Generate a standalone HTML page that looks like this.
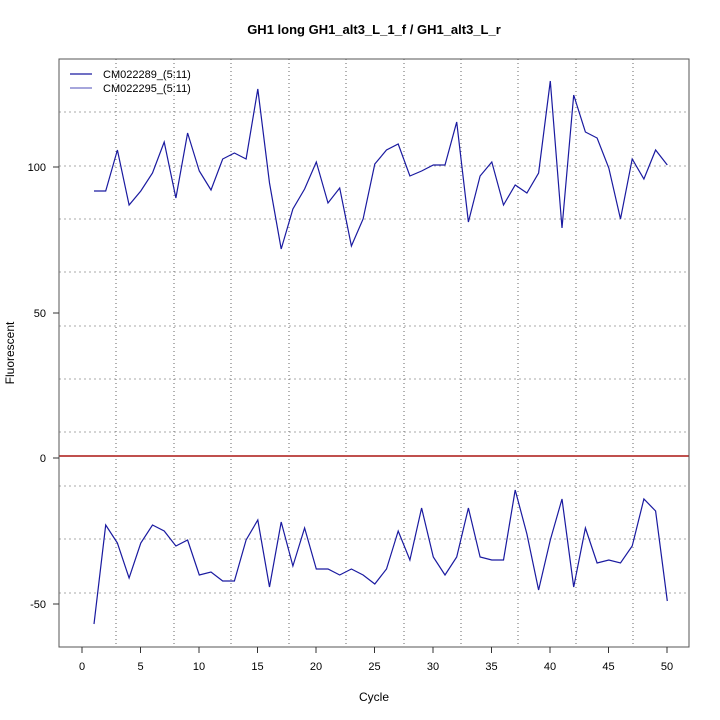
<!DOCTYPE html>
<html><head><meta charset="utf-8"><style>body{margin:0;background:#fff}svg{display:block}</style></head><body>
<svg width="720" height="720" xmlns="http://www.w3.org/2000/svg" font-family="Liberation Sans, sans-serif">
<rect width="720" height="720" fill="#fff"/>
<g stroke="#aaa" stroke-dasharray="2,3" stroke-width="1">
<line x1="59" x2="689" y1="112" y2="112"/><line x1="59" x2="689" y1="166" y2="166"/><line x1="59" x2="689" y1="219" y2="219"/><line x1="59" x2="689" y1="272" y2="272"/><line x1="59" x2="689" y1="326" y2="326"/><line x1="59" x2="689" y1="379" y2="379"/><line x1="59" x2="689" y1="432" y2="432"/><line x1="59" x2="689" y1="486" y2="486"/><line x1="59" x2="689" y1="539" y2="539"/><line x1="59" x2="689" y1="593" y2="593"/>
</g>
<g stroke="#666" stroke-dasharray="1,3" stroke-width="1">
<line y1="59" y2="647" x1="116" x2="116"/><line y1="59" y2="647" x1="174" x2="174"/><line y1="59" y2="647" x1="231" x2="231"/><line y1="59" y2="647" x1="289" x2="289"/><line y1="59" y2="647" x1="346" x2="346"/><line y1="59" y2="647" x1="404" x2="404"/><line y1="59" y2="647" x1="461" x2="461"/><line y1="59" y2="647" x1="518" x2="518"/><line y1="59" y2="647" x1="576" x2="576"/><line y1="59" y2="647" x1="633" x2="633"/>
</g>
<line x1="59" x2="689" y1="456" y2="456" stroke="#c0504d" stroke-width="2"/>
<polyline fill="none" stroke="#1a1aa0" stroke-width="1.2" points="94,191 105.7,191 117.4,150 129.1,205 140.8,191 152.5,173 164.2,142 175.9,198 187.6,133 199.3,171 211,190 222.7,159 234.4,153 246.1,159 257.8,89 269.5,183 281.2,249 292.9,209 304.6,189 316.3,162 328,203 339.7,188 351.4,246 363.1,219 374.8,164 386.5,150 398.2,144 409.9,176 421.6,171 433.3,165 445,165 456.7,122 468.4,222 480.1,176 491.8,162 503.5,205 515.2,185 526.9,193 538.6,173 550.3,81 562,228 573.7,95 585.4,132 597.1,138 608.8,168 620.5,219 632.2,159 643.9,179 655.6,150 667.3,165"/>
<polyline fill="none" stroke="#1a1aa0" stroke-width="1.2" points="94,624 105.7,525 117.4,543 129.1,578 140.8,543 152.5,525 164.2,531 175.9,546 187.6,540 199.3,575 211,572 222.7,581 234.4,581 246.1,540 257.8,520 269.5,587 281.2,522 292.9,566 304.6,528 316.3,569 328,569 339.7,575 351.4,569 363.1,575 374.8,584 386.5,569 398.2,531 409.9,560 421.6,508 433.3,557 445,575 456.7,557 468.4,508 480.1,557 491.8,560 503.5,560 515.2,490 526.9,534 538.6,590 550.3,540 562,499 573.7,587 585.4,528 597.1,563 608.8,560 620.5,563 632.2,546 643.9,499 655.6,511 667.3,601"/>
<rect x="59" y="59" width="630" height="588" fill="none" stroke="#555" stroke-width="1"/>
<g stroke="#333" stroke-width="1">
<line x1="53" x2="59" y1="167" y2="167"/><line x1="53" x2="59" y1="313" y2="313"/><line x1="53" x2="59" y1="458" y2="458"/><line x1="53" x2="59" y1="604" y2="604"/>
<line y1="647" y2="653" x1="82" x2="82"/><line y1="647" y2="653" x1="140.5" x2="140.5"/><line y1="647" y2="653" x1="199" x2="199"/><line y1="647" y2="653" x1="257.5" x2="257.5"/><line y1="647" y2="653" x1="316" x2="316"/><line y1="647" y2="653" x1="374.5" x2="374.5"/><line y1="647" y2="653" x1="433" x2="433"/><line y1="647" y2="653" x1="491.5" x2="491.5"/><line y1="647" y2="653" x1="550" x2="550"/><line y1="647" y2="653" x1="608.5" x2="608.5"/><line y1="647" y2="653" x1="667" x2="667"/>
</g>
<g font-size="11" fill="#000" text-anchor="end">
<text x="46" y="171">100</text><text x="46" y="317">50</text><text x="46" y="462">0</text><text x="46" y="608">-50</text>
</g>
<g font-size="11" fill="#000" text-anchor="middle">
<text x="82" y="670">0</text><text x="140.5" y="670">5</text><text x="199" y="670">10</text><text x="257.5" y="670">15</text><text x="316" y="670">20</text><text x="374.5" y="670">25</text><text x="433" y="670">30</text><text x="491.5" y="670">35</text><text x="550" y="670">40</text><text x="608.5" y="670">45</text><text x="667" y="670">50</text>
<text x="374" y="701" font-size="12">Cycle</text>
<text x="374" y="34" font-size="13" font-weight="bold">GH1 long GH1_alt3_L_1_f / GH1_alt3_L_r</text>
</g>
<text transform="translate(14,353) rotate(-90)" font-size="12" text-anchor="middle">Fluorescent</text>
<line x1="70" x2="92" y1="74" y2="74" stroke="#1a1aa0" stroke-width="1.2"/>
<line x1="70" x2="92" y1="88" y2="88" stroke="#7070c8" stroke-width="1.2"/>
<text x="103" y="78" font-size="11">CM022289_(5:11)</text>
<text x="103" y="92" font-size="11">CM022295_(5:11)</text>
</svg>
</body></html>
